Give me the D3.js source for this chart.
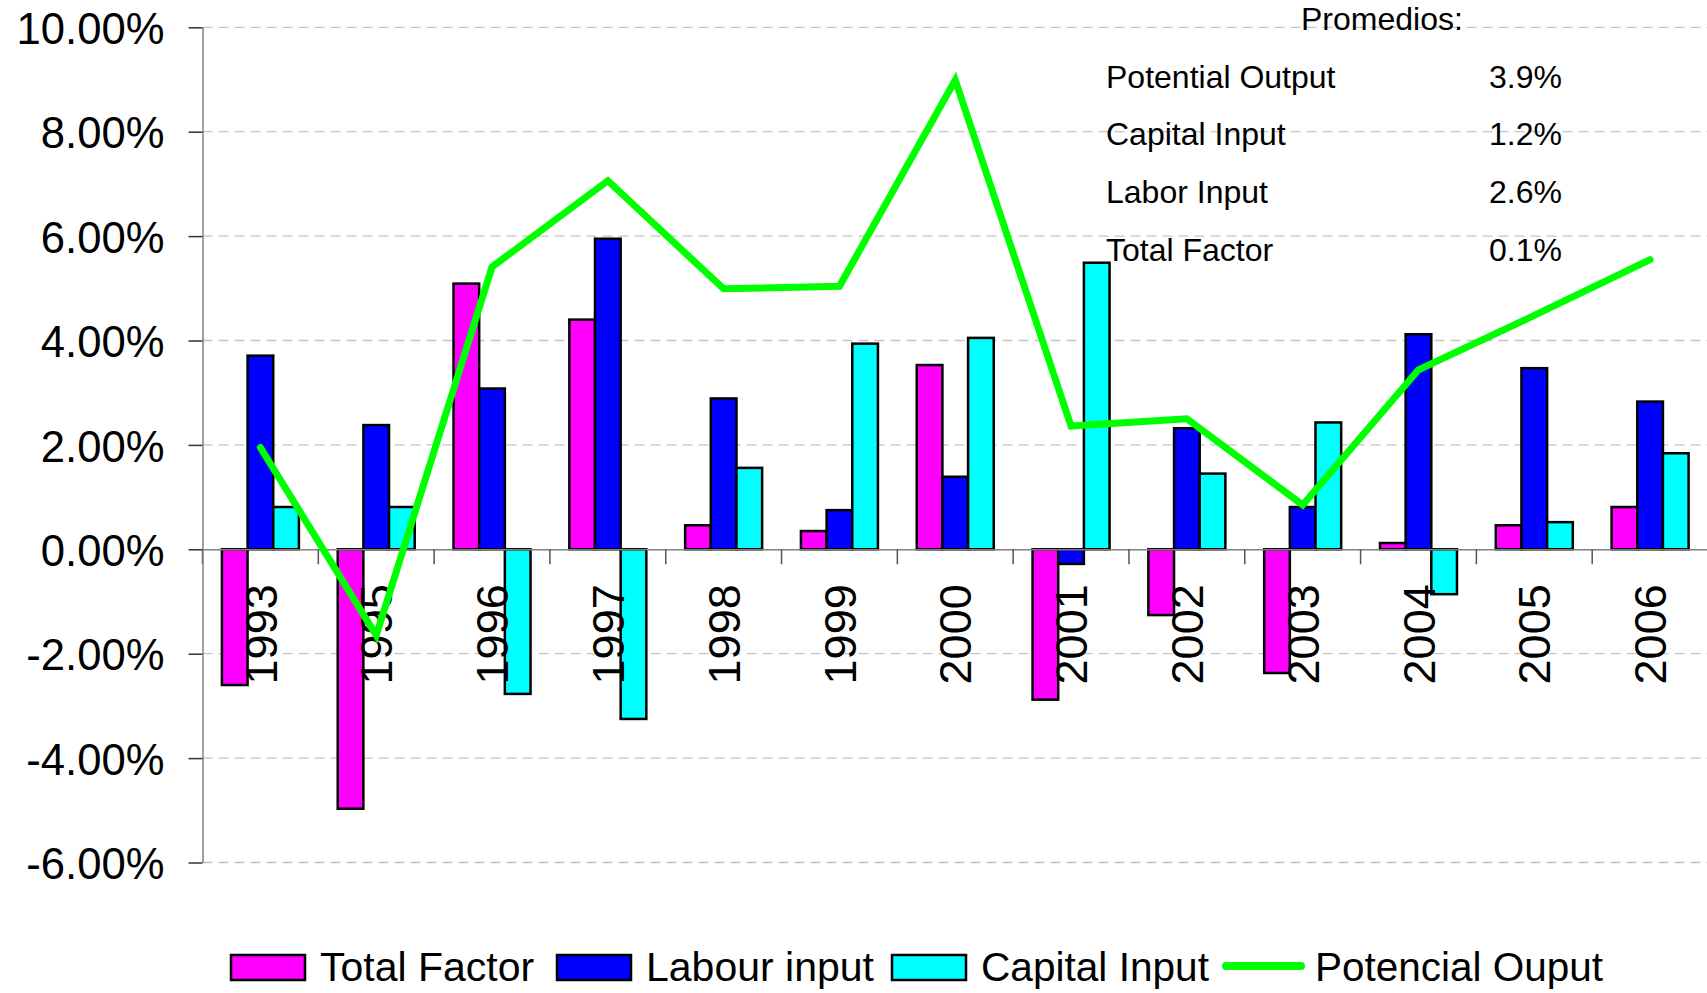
<!DOCTYPE html>
<html lang="en">
<head>
<meta charset="utf-8" />
<title>Potencial Output</title>
<script src="https://cdn.jsdelivr.net/npm/d3@7"></script>
<style>
  body { margin: 0; background: #fff; }
  svg { display: block; font-family: "Liberation Sans", Arial, sans-serif; }
</style>
</head>
<body>
<svg id="chart" width="1707" height="993"></svg>
<script>
// data (percent)
const years = ["1993", "1995", "1996", "1997", "1998", "1999", "2000", "2001", "2002", "2003", "2004", "2005", "2006"];
const totalFactor = [-2.6, -4.97, 5.09, 4.40, 0.46, 0.35, 3.53, -2.88, -1.26, -2.37, 0.12, 0.46, 0.81];
const labourInput = [3.71, 2.38, 3.08, 5.95, 2.89, 0.75, 1.39, -0.28, 2.32, 0.81, 4.12, 3.47, 2.83];
const capitalInput = [0.81, 0.81, -2.77, -3.25, 1.56, 3.94, 4.05, 5.49, 1.45, 2.43, -0.86, 0.52, 1.84];
const potentialOutput = [1.95, -1.65, 5.41, 7.06, 4.99, 5.04, 8.99, 2.36, 2.50, 0.85, 3.44, 4.48, 5.55];
const yTicks = [-6, -4, -2, 0, 2, 4, 6, 8, 10];

const avgLabels = ["Potential Output", "Capital Input", "Labor Input", "Total Factor"];
const avgValues = ["3.9%", "1.2%", "2.6%", "0.1%"];

const legendNames = ["Total Factor", "Labour input", "Capital Input", "Potencial Ouput"];
const colors = ["#ff00ff", "#0000ff", "#00ffff", "#00ff00"];

const barSeries = [
  { name: legendNames[0], values: totalFactor, color: colors[0] },
  { name: legendNames[1], values: labourInput, color: colors[1] },
  { name: legendNames[2], values: capitalInput, color: colors[2] }
];

const svg = d3.select("#chart");

const x = d3.scaleBand().domain(years).range([202.5, 1708]);
const y = d3.scaleLinear().domain([-6, 10]).range([862.5, 27.3]);
const xSub = d3.scaleBand().domain(barSeries.map(s => s.name)).range([-38.5, 38.5]);

// dashed grid
svg.append("g")
  .selectAll("line")
  .data(yTicks.filter(d => d !== 0))
  .join("line")
  .attr("x1", x.range()[0])
  .attr("x2", 1707)
  .attr("y1", d => y(d))
  .attr("y2", d => y(d))
  .attr("stroke", "#c4c4c4")
  .attr("stroke-width", 1.3)
  .attr("stroke-dasharray", "10,6");

// bars
barSeries.forEach(s => {
  svg.append("g")
    .selectAll("rect")
    .data(s.values)
    .join("rect")
    .attr("x", (d, i) => x(years[i]) + x.bandwidth() / 2 + xSub(s.name))
    .attr("width", xSub.bandwidth())
    .attr("y", d => y(Math.max(0, d)))
    .attr("height", d => Math.abs(y(d) - y(0)))
    .attr("fill", s.color)
    .attr("stroke", "#000")
    .attr("stroke-width", 2.5);
});

// x axis on the zero line
const xAxis = svg.append("g")
  .attr("transform", `translate(0,${y(0)})`)
  .call(d3.axisBottom(x).tickSize(0).tickSizeOuter(0));
xAxis.attr("font-family", null).attr("font-size", null);
xAxis.select(".domain").attr("stroke", "#808080").attr("stroke-width", 1.5);
xAxis.selectAll(".tick text")
  .attr("fill", "#000")
  .attr("font-size", 45)
  .attr("y", 0)
  .attr("dy", "0.36em")
  .attr("x", -35)
  .attr("text-anchor", "end")
  .attr("transform", "rotate(-90)");
xAxis.selectAll(".bound")
  .data(d3.range(years.length + 1))
  .join("line")
  .attr("class", "bound")
  .attr("x1", i => x.range()[0] + i * x.step())
  .attr("x2", i => x.range()[0] + i * x.step())
  .attr("y1", 0)
  .attr("y2", 15)
  .attr("stroke", "#555")
  .attr("stroke-width", 1.5);

// y axis
const yAxis = svg.append("g")
  .attr("transform", `translate(${x.range()[0]},0)`)
  .call(d3.axisLeft(y).tickValues(yTicks).tickSize(14).tickSizeOuter(0)
    .tickFormat(d => d.toFixed(2) + "%"));
yAxis.attr("font-family", null).attr("font-size", null);
yAxis.select(".domain").attr("stroke", "#808080").attr("stroke-width", 1.5);
yAxis.selectAll(".tick line").attr("stroke", "#333").attr("stroke-width", 1.5);
yAxis.selectAll(".tick text")
  .attr("fill", "#000")
  .attr("font-size", 45)
  .attr("x", 0)
  .attr("dy", "0.36em")
  .attr("transform", "translate(-38,0) scale(0.97,1)");

// potential output line
const line = d3.line()
  .x((d, i) => x(years[i]) + x.bandwidth() / 2)
  .y(d => y(d));

svg.append("path")
  .datum(potentialOutput)
  .attr("d", line)
  .attr("fill", "none")
  .attr("stroke", colors[3])
  .attr("stroke-width", 7)
  .attr("stroke-linejoin", "miter")
  .attr("stroke-linecap", "round");

// averages box
const notes = svg.append("g").attr("font-size", 32).attr("fill", "#000");
notes.append("text").attr("x", 1301).attr("y", 29.5).text("Promedios:");
notes.selectAll(".avg-label")
  .data(avgLabels)
  .join("text")
  .attr("class", "avg-label")
  .attr("x", 1106)
  .attr("y", (d, i) => 87.5 + i * 57.7)
  .text(d => d);
notes.selectAll(".avg-value")
  .data(avgValues)
  .join("text")
  .attr("class", "avg-value")
  .attr("x", 1489)
  .attr("y", (d, i) => 87.5 + i * 57.7)
  .text(d => d);

// legend (item start positions follow the picture)
const legendX = [231, 557, 892, 1222];
const legend = svg.append("g").attr("font-size", 41).attr("fill", "#000");
legendNames.forEach((name, i) => {
  const item = legend.append("g").attr("transform", `translate(${legendX[i]},0)`);
  let textX;
  if (i < 3) {
    item.append("rect")
      .attr("x", 0).attr("y", 955)
      .attr("width", 74).attr("height", 25)
      .attr("fill", colors[i])
      .attr("stroke", "#000")
      .attr("stroke-width", 2.5);
    textX = 89;
  } else {
    item.append("line")
      .attr("x1", 4).attr("x2", 79)
      .attr("y1", 966).attr("y2", 966)
      .attr("stroke", colors[3])
      .attr("stroke-width", 8)
      .attr("stroke-linecap", "round");
    textX = 93;
  }
  const t = item.append("text").attr("x", textX).attr("y", 981).text(name);
  // squeeze slightly wide labels so they end where the picture's do
  const maxW = [222, 230, 228, 288][i];
  if (t.node().getComputedTextLength() > maxW) {
    t.attr("textLength", maxW).attr("lengthAdjust", "spacingAndGlyphs");
  }
});
</script>
</body>
</html>
